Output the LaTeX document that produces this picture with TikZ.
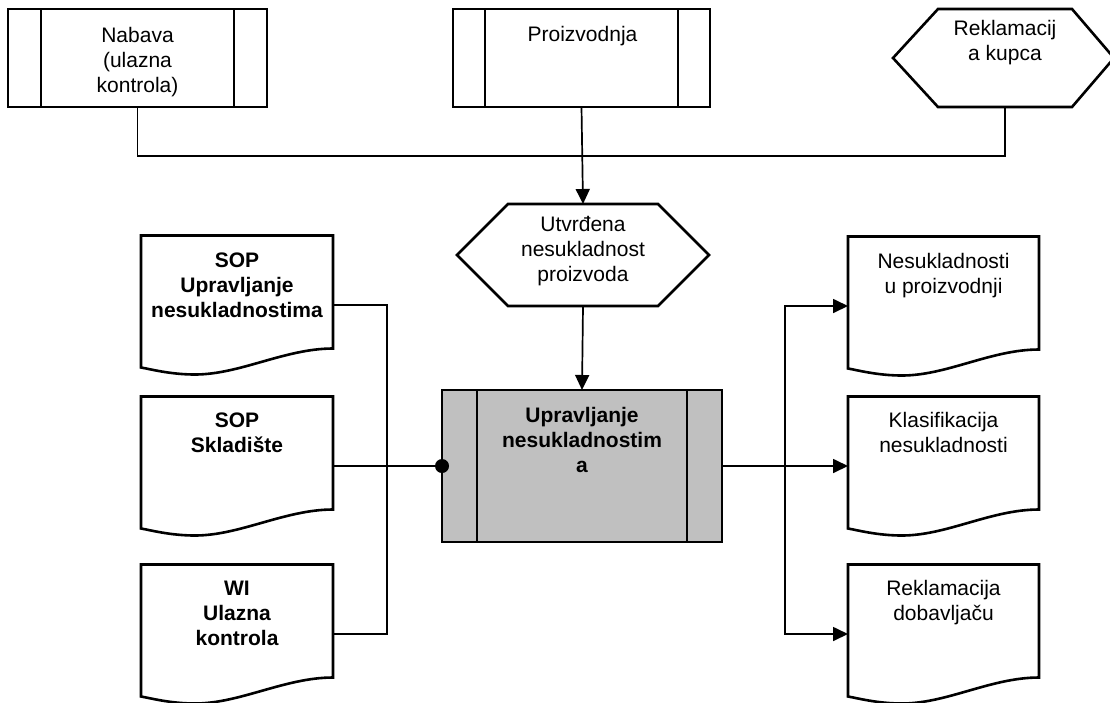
\documentclass[tikz,border=0pt]{standalone}
\usepackage{fontspec}
\setmainfont{Liberation Sans}
\usetikzlibrary{arrows.meta,calc}
\definecolor{procgray}{HTML}{C0C0C0}
\tikzset{
  shapeline/.style={line width=2.6pt, line join=miter},
  conn/.style={line width=1.7pt},
  arr/.style={-{Triangle[length=15pt,width=14pt]}},
  box/.style={rectangle, draw=none, inner sep=0pt, outer sep=0pt},
  txt/.style={font=\fontsize{21}{25}\selectfont, align=center, inner sep=0pt, anchor=north},
  btxt/.style={txt, font=\fontsize{21}{25}\selectfont\bfseries},
}
\newcommand\procbars[2]{%
  \draw[shapeline] ([shift={(#2,0)}]#1.north west) -- ([shift={(#2,0)}]#1.south west);
  \draw[shapeline] ([shift={(-#2,0)}]#1.north east) -- ([shift={(-#2,0)}]#1.south east);}
\newcommand\docpath[1]{%
  \draw[shapeline, fill=white] (#1.north west) -- (#1.north east) -- ([shift={(0,113)}]#1.north east)
    .. controls +(-48,0) and +(45,0) .. ([shift={(54,139)}]#1.north west)
    .. controls +(-25,0) and +(9,1.5) .. ([shift={(0,132)}]#1.north west) -- cycle;}
\begin{document}
\begin{tikzpicture}[x=1pt,y=-1pt]
\useasboundingbox (0,0) rectangle (1110,702);
% top process boxes
\node[box, draw, shapeline, minimum width=259pt, minimum height=98pt] (nab) at (137.5,58) {};
\procbars{nab}{33}
\node[txt] (nabT) at ([shift={(0,18)}]nab.north) {Nabava\\(ulazna\\kontrola)};
\node[box, draw, shapeline, minimum width=257pt, minimum height=98pt] (pro) at (581.5,58) {};
\procbars{pro}{32}
\node[txt] (proT) at ([shift={(1,17)}]pro.north) {Proizvodnja};
% top right hexagon
\node[box, minimum width=134pt, minimum height=98pt] (rek) at (1005,58) {};
\draw[shapeline] (rek.north west) -- (rek.north east) -- ([shift={(42,0)}]rek.east) -- (rek.south east)
  -- (rek.south west) -- ([shift={(-45,0)}]rek.west) -- cycle;
\node[txt] (rekT) at ([shift={(0,11)}]rek.north) {Reklamacij\\a kupca};
% middle hexagon
\node[box, minimum width=150pt, minimum height=102pt] (utv) at (583,255) {};
\draw[shapeline] (utv.north west) -- (utv.north east) -- ([shift={(51,0)}]utv.east) -- (utv.south east)
  -- (utv.south west) -- ([shift={(-51,0)}]utv.west) -- cycle;
\node[txt] (utvT) at ([shift={(0,12)}]utv.north) {Utvrđena\\nesukladnost\\proizvoda};
% central process
\node[box, draw, shapeline, fill=procgray, minimum width=280pt, minimum height=152pt] (cen) at (582,466) {};
\procbars{cen}{35}
\node[btxt] (cenT) at ([shift={(0,17)}]cen.north) {Upravljanje\\nesukladnostim\\a};
% left documents
\node[box, minimum width=192pt, minimum height=139pt] (d1) at (237,305) {};
\docpath{d1}
\node[btxt] (d1T) at ([shift={(0,17)}]d1.north) {SOP\\Upravljanje\\nesukladnostima};
\node[box, minimum width=192pt, minimum height=139pt] (d2) at (237,466) {};
\docpath{d2}
\node[btxt] (d2T) at ([shift={(0,16)}]d2.north) {SOP\\Skladište};
\node[box, minimum width=192pt, minimum height=139pt] (d3) at (237,634) {};
\docpath{d3}
\node[btxt] (d3T) at ([shift={(0,16)}]d3.north) {WI\\Ulazna\\kontrola};
% right documents
\node[box, minimum width=191pt, minimum height=139pt] (r1) at (943.5,306) {};
\docpath{r1}
\node[txt] (r1T) at ([shift={(0,17)}]r1.north) {Nesukladnosti\\u proizvodnji};
\node[box, minimum width=191pt, minimum height=139pt] (r2) at (943.5,466) {};
\docpath{r2}
\node[txt] (r2T) at ([shift={(0,16)}]r2.north) {Klasifikacija\\nesukladnosti};
\node[box, minimum width=191pt, minimum height=139pt] (r3) at (943.5,634) {};
\docpath{r3}
\node[txt] (r3T) at ([shift={(0,16)}]r3.north) {Reklamacija\\dobavljaču};
% connectors
\coordinate (bus) at (583,156);
\coordinate (lj) at (387,466);
\coordinate (rj) at (785,466);
\draw[conn] (nab.south) |- (bus) -| (rek.south);
\draw[conn, arr] (pro.south) -- (utv.north);
\draw[conn, arr] (utv.south) -- (cen.north);
\draw[conn] (d1.east) -| (lj |- d3.east) -- (d3.east);
\draw[conn] (d2.east) -- (cen.west);
\fill (cen.west) circle (7);
\draw[conn, arr] (cen.east) -- (r2.west);
\draw[conn, {Triangle[length=15pt,width=14pt]}-{Triangle[length=15pt,width=14pt]}] (r1.west) -| (rj |- r3.west) -- (r3.west);
\end{tikzpicture}
\end{document}
